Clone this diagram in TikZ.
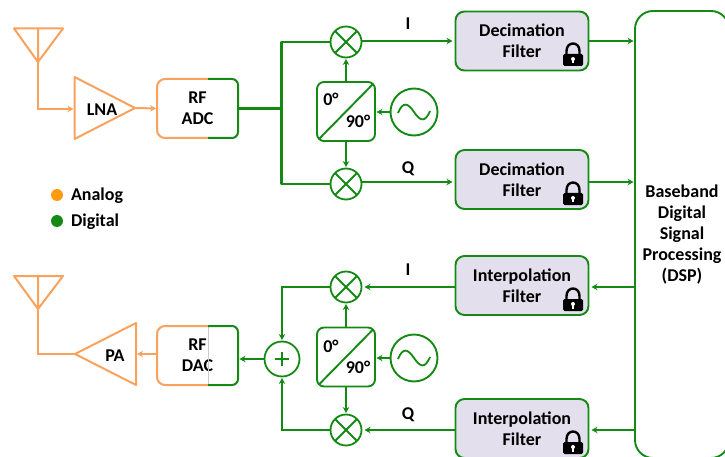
\documentclass[tikz,border=0pt]{standalone}
\usepackage{fontspec}
\setmainfont{Carlito}
\usetikzlibrary{arrows.meta,positioning}
\definecolor{dgreen}{HTML}{148A14}
\definecolor{aorange}{HTML}{F8A25E}
\definecolor{filterfill}{HTML}{E4DFEC}
\definecolor{dotorange}{HTML}{FF9A0D}
\tikzset{
    lbl/.style={font=\fontsize{18}{21}\selectfont\bfseries,align=center,text=black,inner sep=0,outer sep=0,yshift=-1.5pt},
    dline/.style={draw=dgreen,line width=1.7},
    aline/.style={draw=aorange,line width=2},
    darrow/.style={dline,-{Stealth[length=6,width=6.5]},shorten >=1.5},
    aarrow/.style={aline,-{Stealth[length=6,width=6.5]},shorten >=1},
    bus/.style={draw=dgreen,line width=2.4,line join=round},
    halfbox/.style={minimum width=81,minimum height=59,lbl,yshift=1.5pt},
    filterbox/.style={lbl,draw=dgreen,line width=1.9,fill=filterfill,rounded corners=9,minimum width=133,minimum height=59,yshift=1.5pt},
    mixer/.style={circle,draw=dgreen,line width=1.8,minimum size=31,inner sep=0,outer sep=0,
        path picture={\draw[dgreen,line width=1.8] (path picture bounding box.north west)--(path picture bounding box.south east)
            (path picture bounding box.north east)--(path picture bounding box.south west);}},
    adder/.style={circle,draw=dgreen,line width=1.8,minimum size=35,inner sep=0,outer sep=0,
        path picture={\draw[dgreen,line width=1.6,shift={(path picture bounding box.center)}] (-7,0)--(7,0) (0,-7)--(0,7);}},
    osc/.style={circle,draw=dgreen,line width=1.9,minimum size=47,inner sep=0,outer sep=0,
        path picture={\draw[dgreen,line width=1.8,shift={(path picture bounding box.center)}]
            (-16,1) .. controls (-11,-11) and (-6,-9) .. (0,0) .. controls (6,9) and (11,11) .. (16,-1);}},
    splitter/.style={draw=dgreen,line width=1.9,rounded corners=7,minimum width=58,minimum height=59,inner sep=0,outer sep=0,
        path picture={\draw[dgreen,line width=1.9] (path picture bounding box.south west)--(path picture bounding box.north east);}},
    padlock/.pic={
        \fill[black,rounded corners=1.5] (-10,0) rectangle (10,-12);
        \draw[black,line width=2.4] (-6.5,-11) -- (-6.5,-15) .. controls (-6.5,-25) and (6.5,-25) .. (6.5,-15) -- (6.5,-11);
        \fill[white] (0,-7) circle (2);
        \fill[white] (-1,-7) rectangle (1,-2.5);
    }
}
\begin{document}
\begin{tikzpicture}[x=1pt,y=-1pt]
    \useasboundingbox (0,0) rectangle (725,457);
    \clip (0,0) rectangle (725,457);
    % receive antenna and amplifier
    \coordinate (antA) at (38,62);
    \coordinate (lnaIn) at (74.5,109);
    \coordinate (lnaTip) at (135,108);
    \draw[aline,line join=round] (14,28.5)--(63,28.5)--(antA)--cycle (38,28.5)--(antA);
    \draw[aarrow] (antA) |- (lnaIn);
    \draw[aline,line join=round] (74.5,77)--(lnaTip)--(74.5,139)--cycle;
    \node[lbl] (lna) at (102,108) {LNA};
    \node[halfbox] (adc) at (197.5,108.5) {RF\\ADC};
    \coordinate (adcT) at (208,79);
    \coordinate (adcB) at (208,138);
    \draw[aline,rounded corners=8] (adcT)--(adc.north west)--(adc.south west)--(adcB);
    \draw[dline,line width=2,rounded corners=6] (adcT)--(adc.north east)--(adc.south east)--(adcB);
    \draw[aarrow] (lnaTip)--(adc.west);
    % downconversion
    \node[mixer] (mixI) at (346,42) {};
    \node[mixer] (mixQ) at (346,184) {};
    \coordinate (adcJoin) at (281.5,108.5);
    \draw[bus] (adc.east)--(adcJoin);
    \draw[bus] (mixI.west) -| (adcJoin) |- (mixQ.west);
    \node[splitter] (splitA) at (346,111.5) {};
    \node[lbl] (zeroA) at (331,98) {0°};
    \node[lbl] (ninetyA) at (358,120) {90°};
    \draw[darrow] (splitA.north)--(mixI.south);
    \draw[darrow] (splitA.south)--(mixQ.north);
    \node[osc] (oscA) at (414,112) {};
    \draw[darrow] (oscA.west)--(splitA.east |- oscA.west);
    \node[filterbox] (decI) at (522,41) {Decimation\\Filter};
    \node[filterbox] (decQ) at (522,179.5) {Decimation\\Filter};
    \coordinate (lineQ) at (0,182);
    \pic at (573,66) {padlock};
    \pic at (573,205) {padlock};
    \node[lbl] (labI) at (408,22) {I};
    \node[lbl] (labQ) at (408,167) {Q};
    \draw[darrow,shorten >=3] (mixI.east |- decI.west)--(decI.west);
    \draw[darrow,shorten >=3] (mixQ.east |- lineQ)--(decQ.west |- lineQ);
    % baseband
    \node[lbl,draw=dgreen,line width=1.9,rounded corners=18,minimum width=94,minimum height=447,yshift=1.5pt] (dsp) at (682,234.5)
        {Baseband\\Digital\\Signal\\Processing\\(DSP)};
    \draw[darrow] (decI.east)--(dsp.west |- decI.east);
    \draw[darrow] (decQ.east |- lineQ)--(dsp.west |- lineQ);
    % upconversion
    \node[filterbox] (intI) at (522,285.5) {Interpolation\\Filter};
    \node[filterbox] (intQ) at (522,428.5) {Interpolation\\Filter};
    \pic at (573,311) {padlock};
    \pic at (573,454) {padlock};
    \node[mixer] (mixC) at (346,287) {};
    \node[mixer] (mixD) at (346,430) {};
    \node[lbl] (labC) at (408,268) {I};
    \node[lbl] (labD) at (408,413) {Q};
    \draw[darrow,shorten >=3] (dsp.west |- mixC.east)--(intI.east |- mixC.east);
    \draw[darrow,shorten >=3] (dsp.west |- mixD.east)--(intQ.east |- mixD.east);
    \draw[darrow,shorten >=3] (intI.west |- mixC.east)--(mixC.east);
    \draw[darrow,shorten >=3] (intQ.west |- mixD.east)--(mixD.east);
    \node[splitter] (splitB) at (346,357) {};
    \node[lbl] (zeroB) at (331,345) {0°};
    \node[lbl] (ninetyB) at (358,366) {90°};
    \draw[darrow] (splitB.north)--(mixC.south);
    \draw[darrow] (splitB.south)--(mixD.north);
    \node[osc] (oscB) at (414,358) {};
    \draw[darrow] (oscB.west)--(splitB.east |- oscB.west);
    \node[adder] (sum) at (282,359) {};
    \draw[darrow] (mixC.west) -| (sum.north);
    \draw[darrow] (mixD.west) -| (sum.south);
    % transmit side
    \node[halfbox] (dac) at (197.5,355.5) {RF\\DAC};
    \coordinate (dacT) at (208,326);
    \coordinate (dacB) at (208,385);
    \draw[black!20,line width=.6] (dacT)--(dacB);
    \draw[aline,rounded corners=8] (dacT)--(dac.north west)--(dac.south west)--(dacB);
    \draw[dline,line width=2,rounded corners=6] (dacT)--(dac.north east)--(dac.south east)--(dacB);
    \draw[darrow] (sum.west)--(dac.east |- sum.west);
    \coordinate (paTip) at (75,354);
    \coordinate (paIn) at (136,354);
    \coordinate (antB) at (38,309);
    \draw[aline,line join=round] (paTip)--(136,323)--(136,385)--cycle;
    \node[lbl] (pa) at (115,354) {PA};
    \draw[aarrow] (dac.west |- paIn)--(paIn);
    \draw[aline,line join=round] (14,276)--(63,276)--(antB)--cycle (38,276)--(antB);
    \draw[aline] (paTip) -| (antB);
    % legend
    \node[circle,fill=dotorange,inner sep=0,minimum size=12] (dotA) at (57,195) {};
    \node[circle,fill=dgreen,inner sep=0,minimum size=12] (dotB) at (57,221) {};
    \node[lbl,anchor=west,yshift=1pt] (analog) at (71,195) {Analog};
    \node[lbl,anchor=west,yshift=1pt] (digital) at (71,221) {Digital};
\end{tikzpicture}
\end{document}
